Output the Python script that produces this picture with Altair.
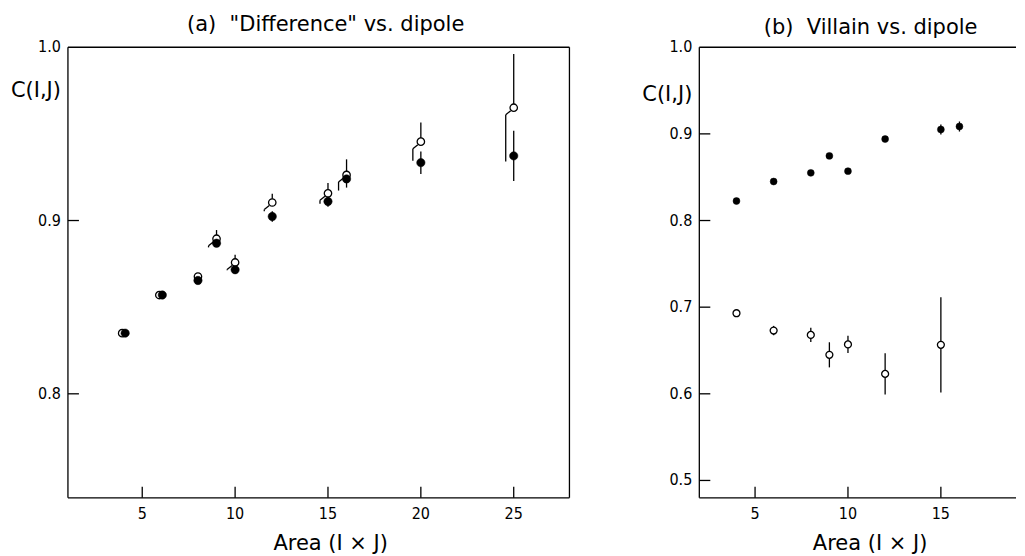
import altair as alt
import pandas as pd

# ---------------- data ----------------
# Panel (a): "Difference" vs. dipole
area_a = [4, 6, 8, 9, 10, 12, 15, 16, 20, 25]
open_a = [0.835, 0.857, 0.8677, 0.8895, 0.8758, 0.9104, 0.9157, 0.9263, 0.9455, 0.9651]
open_err_a = [0.0, 0.0, 0.0, 0.005, 0.0045, 0.005, 0.006, 0.009, 0.011, 0.031]
filled_a = [0.835, 0.857, 0.8654, 0.8869, 0.8716, 0.9023, 0.911, 0.924, 0.9334, 0.9373]
filled_err_a = [0.0, 0.0, 0.0, 0.0, 0.002, 0.003, 0.003, 0.005, 0.0065, 0.0145]

# Panel (b): Villain vs. dipole
area_b_filled = [4, 6, 8, 9, 10, 12, 15, 16]
filled_b = [0.8225, 0.845, 0.855, 0.8746, 0.857, 0.894, 0.905, 0.9085]
filled_err_b = [0.0, 0.0, 0.0, 0.0, 0.0, 0.0, 0.0058, 0.0058]
area_b_open = [4, 6, 8, 9, 10, 12, 15]
open_b = [0.693, 0.673, 0.668, 0.645, 0.657, 0.623, 0.6565]
open_err_b = [0.0, 0.0054, 0.0083, 0.0145, 0.010, 0.0237, 0.055]

xticks_a = [5, 10, 15, 20, 25]
yticks_a = [0.8, 0.9]
ylabels_a = [0.8, 0.9, 1.0]
xticks_b = [5, 10, 15]
yticks_b = [0.5, 0.6, 0.7, 0.8, 0.9]
ylabels_b = [0.5, 0.6, 0.7, 0.8, 0.9, 1.0]

title_a = '(a)\u00a0 "Difference" vs. dipole'
title_b = '(b)\u00a0 Villain vs. dipole'
x_title = 'Area (I \u00d7 J)'
y_title = 'C(I,J)'

FONT = "DejaVu Sans"
TFONT = "DejaVu Sans Condensed, DejaVu Sans"
LW = 1.3


def build_panel(area_o, val_o, err_o, area_f, val_f, err_f, xdom, ydom, w, h,
                xt, yt, yl, title, title_dx, title_offset, xtitle_x, ytitle_y,
                hooked, right_border, size_o, size_f):
    xs = alt.Scale(domain=xdom, nice=False, zero=False)
    ys = alt.Scale(domain=ydom, nice=False, zero=False)

    dfo = pd.DataFrame({"area": area_o, "v": val_o, "e": err_o})
    dfo["lo"] = dfo["v"] - dfo["e"]
    dfo["hi"] = dfo["v"] + dfo["e"]
    dff = pd.DataFrame({"area": area_f, "v": val_f, "e": err_f})
    dff["lo"] = dff["v"] - dff["e"]
    dff["hi"] = dff["v"] + dff["e"]
    pairs_f = set(zip(area_f, val_f))
    dfo["co"] = [(a, v) in pairs_f for a, v in zip(area_o, val_o)]
    pairs_o = set(zip(area_o, val_o))
    dff["co"] = [(a, v) in pairs_o for a, v in zip(area_f, val_f)]

    X = lambda f: alt.X(f, scale=xs, axis=None)
    Y = lambda f: alt.Y(f, scale=ys, axis=None)
    layers = []

    # error bars
    eo = alt.Chart(dfo[dfo["e"] > 0])
    if hooked:
        layers.append(eo.mark_rule(color="black", strokeWidth=LW).encode(
            x=X("area:Q"), y=Y("v:Q"), y2="hi:Q"))
        layers.append(eo.mark_rule(color="black", strokeWidth=LW, xOffset=-3,
                                   x2Offset=-8, yOffset=3, y2Offset=7).encode(
            x=X("area:Q"), x2="area:Q", y=Y("v:Q"), y2="v:Q"))
        layers.append(eo.mark_rule(color="black", strokeWidth=LW, xOffset=-8,
                                   yOffset=7).encode(
            x=X("area:Q"), y=Y("v:Q"), y2="lo:Q"))
    else:
        layers.append(eo.mark_rule(color="black", strokeWidth=LW).encode(
            x=X("area:Q"), y=Y("lo:Q"), y2="hi:Q"))
    layers.append(alt.Chart(dff[dff["e"] > 0]).mark_rule(color="black", strokeWidth=LW).encode(
        x=X("area:Q"), y=Y("lo:Q"), y2="hi:Q"))

    # inward ticks
    layers.append(alt.Chart(pd.DataFrame({"t": xt})).mark_rule(color="black", strokeWidth=LW).encode(
        x=X("t:Q"), y=alt.value(h), y2=alt.value(h - 11)))
    layers.append(alt.Chart(pd.DataFrame({"t": yt})).mark_rule(color="black", strokeWidth=LW).encode(
        y=Y("t:Q"), x=alt.value(0), x2=alt.value(11)))

    # frame lines
    frame = alt.Chart(pd.DataFrame({"k": [0]}))
    layers.append(frame.mark_rule(color="black", strokeWidth=LW).encode(
        y=alt.value(0), x=alt.value(0), x2=alt.value(w)))
    layers.append(frame.mark_rule(color="black", strokeWidth=LW).encode(
        y=alt.value(h), x=alt.value(0), x2=alt.value(w)))
    layers.append(frame.mark_rule(color="black", strokeWidth=LW).encode(
        x=alt.value(0), y=alt.value(0), y2=alt.value(h)))
    if right_border:
        layers.append(frame.mark_rule(color="black", strokeWidth=LW).encode(
            x=alt.value(w), y=alt.value(0), y2=alt.value(h)))

    # tick labels
    layers.append(alt.Chart(pd.DataFrame({"t": yl})).mark_text(
        align="right", baseline="middle", dx=-7, font=TFONT, fontSize=16, color="black").encode(
        y=Y("t:Q"), x=alt.value(0), text=alt.Text("t:Q", format=".1f")))
    layers.append(alt.Chart(pd.DataFrame({"t": xt})).mark_text(
        align="center", baseline="alphabetic", font=TFONT, fontSize=16, color="black").encode(
        x=X("t:Q"), y=alt.value(h + 21), text=alt.Text("t:Q")))

    # titles
    layers.append(alt.Chart(pd.DataFrame({"s": [title]})).mark_text(
        align="center", baseline="alphabetic", font=FONT, fontSize=21, color="black").encode(
        x=alt.value(w / 2 + title_dx), y=alt.value(-title_offset), text="s:N"))
    layers.append(alt.Chart(pd.DataFrame({"s": [x_title]})).mark_text(
        align="center", baseline="alphabetic", font=FONT, fontSize=21, color="black").encode(
        x=alt.value(xtitle_x), y=alt.value(h + 52), text="s:N"))
    layers.append(alt.Chart(pd.DataFrame({"s": [y_title]})).mark_text(
        align="right", baseline="middle", font=FONT, fontSize=21, color="black").encode(
        x=alt.value(-7), y=alt.value(ytitle_y), text="s:N"))

    # points
    po = dict(shape="circle", filled=True, fill="white", stroke="black",
              strokeWidth=LW, opacity=1, size=size_o)
    pf = dict(shape="circle", filled=True, fill="black", stroke="black",
              strokeWidth=0.5, opacity=1, size=size_f)
    layers.append(alt.Chart(dfo[~dfo["co"]]).mark_point(**po).encode(x=X("area:Q"), y=Y("v:Q")))
    if dfo["co"].any():
        layers.append(alt.Chart(dfo[dfo["co"]]).mark_point(xOffset=-1.5, **po).encode(
            x=X("area:Q"), y=Y("v:Q")))
    layers.append(alt.Chart(dff[~dff["co"]]).mark_point(**pf).encode(x=X("area:Q"), y=Y("v:Q")))
    if dff["co"].any():
        layers.append(alt.Chart(dff[dff["co"]]).mark_point(xOffset=1.5, **pf).encode(
            x=X("area:Q"), y=Y("v:Q")))

    return alt.layer(*layers).properties(width=w, height=h)


H = 451
left = build_panel(area_a, open_a, open_err_a, area_a, filled_a, filled_err_a,
                   [1, 28], [0.74, 1.0], 502, H, xticks_a, yticks_a, ylabels_a,
                   title_a, 7, 16, 263, 44, True, True, 55, 70)
right = build_panel(area_b_open, open_b, open_err_b, area_b_filled, filled_b, filled_err_b,
                    [2, 2 + 317 / 18.6], [0.48, 1.0], 317, H, xticks_b, yticks_b, ylabels_b,
                    title_b, 13, 13, 171, 48, False, False, 48, 48)

chart = alt.hconcat(left, right, spacing=71).properties(
    padding={"left": 2, "top": 6, "right": 0, "bottom": 0},
    background="white",
).configure_view(stroke=None)

chart.save("out.html", embed_options={"renderer": "svg", "actions": False})
